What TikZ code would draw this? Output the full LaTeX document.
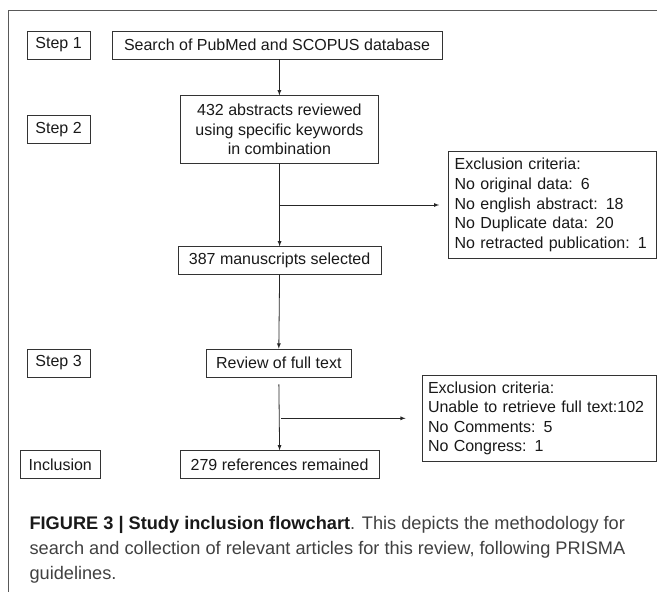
\documentclass[tikz,border=0pt]{standalone}
\usepackage{fontspec}
\setmainfont{Liberation Sans}
\usetikzlibrary{shapes}
\usetikzlibrary{arrows}

\begin{document}
\begin{tikzpicture}[x=1pt,y=-1pt,>=latex]
	\tikzstyle{every node}=[font=\fontsize{16}{19.6}\selectfont,text=black!90]
	\tikzstyle{box}=[rectangle,draw=black!80,line width=0.8pt,inner sep=0pt,align=center]
	\tikzstyle{stepbox}=[box,minimum width=63pt,minimum height=28pt]
	\tikzstyle{flowbox}=[box,minimum height=28pt]
	\tikzstyle{critbox}=[box,inner xsep=6pt,align=left]
	\tikzstyle{link}=[->,draw=black!85,line width=0.8pt]
	\useasboundingbox (0,0) rectangle (657,592);
	\clip (0,0) rectangle (657,592);
	\draw[black!65,line width=0.9pt] (8.8,10) rectangle (690,620);
	% steps
	\node[stepbox] (step1) at (58.6,45) {Step 1};
	\node[stepbox] (step2) at (58.6,129.7) {Step 2};
	\node[stepbox] (step3) at (58.6,363) {Step 3};
	\node[stepbox,minimum width=80.4pt] (incl) at (60.3,464.7) {Inclusion};
	% flow
	\node[flowbox,minimum width=330pt] (search) at (277,45) {Search of PubMed and SCOPUS database};
	\node[flowbox,minimum width=198.6pt,minimum height=67.6pt] (abs) at (279.4,129.5)
		{432 abstracts reviewed\\using specific keywords\\in combination};
	\node[flowbox,minimum width=203pt,minimum height=27.6pt] (sel) at (279.6,260.5) {387 manuscripts selected};
	\node[flowbox,minimum width=144.5pt] (full) at (278.8,363) {Review of full text};
	\node[flowbox,minimum width=199pt] (refs) at (279.6,464.7) {279 references remained};
	% exclusions
	\node[critbox,text width=195.4pt,minimum height=106.7pt] (excl1) at (552.3,205)
		{Exclusion criteria:\\No original data: 6\\No english abstract: 18\\No Duplicate data: 20\\No retracted publication: 1};
	\node[critbox,text width=222pt,minimum height=86.7pt] (excl2) at (539,418.3)
		{Exclusion criteria:\\Unable to retrieve full text:102\\No Comments: 5\\No Congress: 1};
	\coordinate (br1) at (abs.south |- excl1.west);
	\coordinate (br2) at ([xshift=2pt]abs.south |- excl2.west);
	\draw[link] (search.south -| abs.north) -- (abs.north);
	\draw[link] (abs.south) -- (sel.north);
	\draw[link,shorten >=9pt] (br1) -- (excl1.west);
	\draw[link] (sel.south) -- (full.north);
	\draw[link,shorten <=7pt] (full.south) -- (refs.north);
	\draw[link,shorten >=16pt] (br2) -- (excl2.west);
	% caption
	\node[anchor=west,align=left,font=\fontsize{18.2}{25.2}\selectfont,text=black!75] (caption) at (26,550)
		{\textbf{\color{black!90}FIGURE 3 | Study inclusion flowchart}. This depicts the methodology for\\
		search and collection of relevant articles for this review, following PRISMA\\
		guidelines.};
\end{tikzpicture}
\end{document}
